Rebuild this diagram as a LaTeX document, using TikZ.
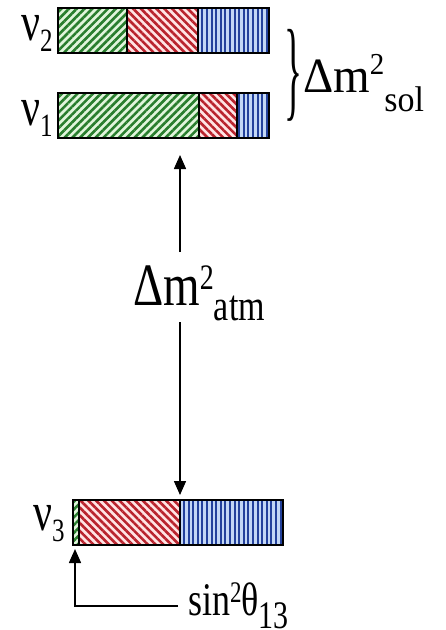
\documentclass[tikz,border=0pt]{standalone}
\usepackage{fontspec}
\setmainfont{Liberation Serif}
\usetikzlibrary{patterns.meta,arrows.meta}
\definecolor{gstripe}{RGB}{40,125,45}
\definecolor{gbg}{RGB}{225,245,220}
\definecolor{rstripe}{RGB}{185,35,45}
\definecolor{rbg}{RGB}{255,228,228}
\definecolor{bstripe}{RGB}{35,65,155}
\definecolor{bbg}{RGB}{195,215,245}
\newcommand{\fsz}[1]{\fontsize{#1}{#1}\selectfont}
\begin{document}
\begin{tikzpicture}[x=1pt,y=-1pt,
  gseg/.style={preaction={fill=gbg}, pattern={Lines[angle=45,distance=5.5pt,line width=2.6pt]}, pattern color=gstripe},
  rseg/.style={preaction={fill=rbg}, pattern={Lines[angle=-45,distance=5.5pt,line width=2.6pt]}, pattern color=rstripe},
  bseg/.style={preaction={fill=bbg}, pattern={Lines[angle=90,distance=4.6pt,line width=2.1pt]}, pattern color=bstripe},
  barline/.style={draw=black, line width=1.4pt},
  lbl/.style={anchor=base west, inner sep=0pt},
  conn/.style={draw=black, line width=1.5pt},
  tip/.style={-{Triangle[length=14pt,width=12pt]}}]
\useasboundingbox (0,0) rectangle (446,630);
% nu2 bar
\path[gseg] (58,8) rectangle (127,53);
\path[rseg] (127,8) rectangle (198,53);
\path[bseg] (198,8) rectangle (269,53);
\draw[barline] (58,8) rectangle (269,53) (127,8) -- (127,53) (198,8) -- (198,53);
% nu1 bar
\path[gseg] (58,93) rectangle (199,138);
\path[rseg] (199,93) rectangle (237,138);
\path[bseg] (237,93) rectangle (269,138);
\draw[barline] (58,93) rectangle (269,138) (199,93) -- (199,138) (237,93) -- (237,138);
% nu3 bar
\path[gseg] (73,500) rectangle (79,545);
\path[rseg] (79,500) rectangle (180,545);
\path[bseg] (180,500) rectangle (283,545);
\draw[barline] (73,500) rectangle (283,545) (79,500) -- (79,545) (180,500) -- (180,545);
% labels
\node[lbl] (nu2lab) at (21,40) {\scalebox{1}[1.3]{\fsz{42}ν\raisebox{-9pt}{\fsz{25}2}}};
\node[lbl] (nu1lab) at (21,125) {\scalebox{1}[1.3]{\fsz{42}ν\raisebox{-9pt}{\fsz{25}1}}};
\node[lbl] (nu3lab) at (33,530) {\scalebox{1}[1.3]{\fsz{42}ν\raisebox{-9pt}{\fsz{25}3}}};
\node[lbl] (sol) at (303,92) {\scalebox{1}[1.05]{\fsz{47}Δm\raisebox{17pt}{\fsz{29}2}\raisebox{-19pt}{\fsz{34}sol}}};
\node[lbl] (atm) at (133,305) {\scalebox{1}[1.28]{\fsz{47}Δm\raisebox{12pt}{\fsz{28}2}\raisebox{-12pt}{\fsz{34}atm}}};
\node[lbl] (sin) at (188,615) {\scalebox{1}[1.3]{\fsz{36}sin\raisebox{10pt}{\fsz{23}2}θ\raisebox{-10pt}{\fsz{30}13}}};
% brace
\node[inner sep=0pt] (brace) at (293,75) {\resizebox*{18pt}{92pt}{\}}};
% connectors
\coordinate (nu1tip) at (180,155);
\coordinate (atmtop) at (180,252);
\coordinate (atmbot) at (180,322);
\coordinate (nu3tip) at (180,495);
\coordinate (sinend) at (178,606);
\coordinate (sincorner) at (75,606);
\coordinate (nu3left) at (75,549);
\draw[conn, tip] (atmtop) -- (nu1tip);
\draw[conn, tip] (atmbot) -- (nu3tip);
\draw[conn, tip] (sinend) -- (sincorner) -- (nu3left);
\end{tikzpicture}
\end{document}
